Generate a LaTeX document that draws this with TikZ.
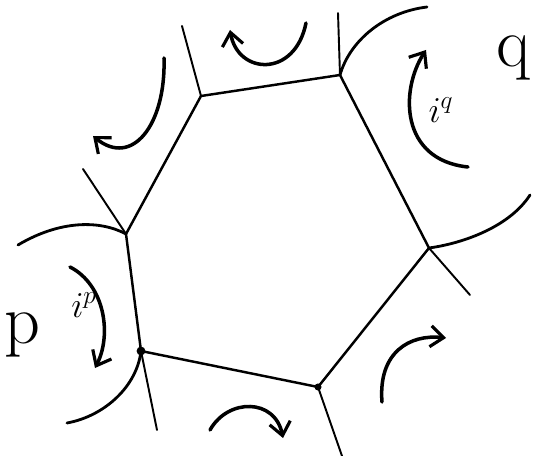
\documentclass[tikz,border=0pt]{standalone}
\usepackage{tikz}
\usetikzlibrary{arrows.meta}
\usepackage{amsmath}
\tikzset{
  edge/.style={line width=1.4pt, line cap=round, line join=round},
  spoke/.style={line width=1.1pt, line cap=round},
  rim/.style={line width=1.6pt, line cap=round},
  flow/.style={line width=2pt, line cap=round, -{Straight Barb[length=2.6mm, width=4.2mm, line width=1.8pt]}},
  site/.style={font=\fontsize{40}{40}\selectfont, inner sep=0pt},
  curr/.style={font=\fontsize{20}{20}\selectfont, inner sep=0pt},
  vdot/.style={circle, fill, inner sep=0pt, minimum size=5pt},
}
\begin{document}
\begin{tikzpicture}[x=0.02cm, y=-0.02cm]
  \useasboundingbox (0,0) rectangle (538,456);
  % hexagon corners
  \coordinate (V1) at (201, 96);
  \coordinate (V2) at (340, 75);
  \coordinate (V3) at (429,248);
  \coordinate (V4) at (318,387);
  \coordinate (V5) at (141,351);
  \coordinate (V6) at (126,234);
  % outer ends of the spokes
  \coordinate (S1) at (182, 26);
  \coordinate (S2) at (338, 13);
  \coordinate (S3) at (470,295);
  \coordinate (S4) at (342,456);
  \coordinate (S5) at (157,430);
  \coordinate (S6) at ( 83,169);
  \draw[edge] (V1) -- (V2) -- (V3) -- (V4) -- (V5) -- (V6) -- cycle;
  \foreach \i in {1,...,6}
    \draw[spoke] (V\i) -- (S\i);
  \node[vdot] (D5) at (V5) {};
  \node[vdot, minimum size=4pt] (D4) at (V4) {};
  % arcs round p and q
  \coordinate (P1) at (18,245);
  \coordinate (P2) at (67,423);
  \coordinate (Q1) at (427,7);
  \coordinate (Q2) at (530,195);
  \draw[rim] (P1) .. controls (60,220) and (100,220) .. (V6);
  \draw[rim] (V5) .. controls (137,386) and (105,416) .. (P2);
  \draw[rim] (V2) .. controls (350,40) and (385,12) .. (Q1);
  \draw[rim] (V3) .. controls (465,243) and (510,226) .. (Q2);
  % labels
  \node[site] (p) at (22,335) {p};
  \node[site] (q) at (514,58) {q};
  \node[curr] (ip) at (84,305) {$i^p$};
  \node[curr] (iq) at (441,110) {$i^q$};
  % circulation arrows
  \draw[flow] (70,267) .. controls (105,285) and (112,335) .. (95,368);
  \draw[flow] (468,167) .. controls (400,160) and (400,90) .. (426,50);
  \draw[flow] (306,23) .. controls (295,78) and (238,75) .. (230,30);
  \draw[flow] (164,58) .. controls (166,125) and (132,168) .. (93,136);
  \draw[flow] (210,430) .. controls (228,398) and (275,398) .. (283,438);
  \draw[flow] (382,402) .. controls (378,352) and (410,334) .. (446,338);
\end{tikzpicture}
\end{document}
